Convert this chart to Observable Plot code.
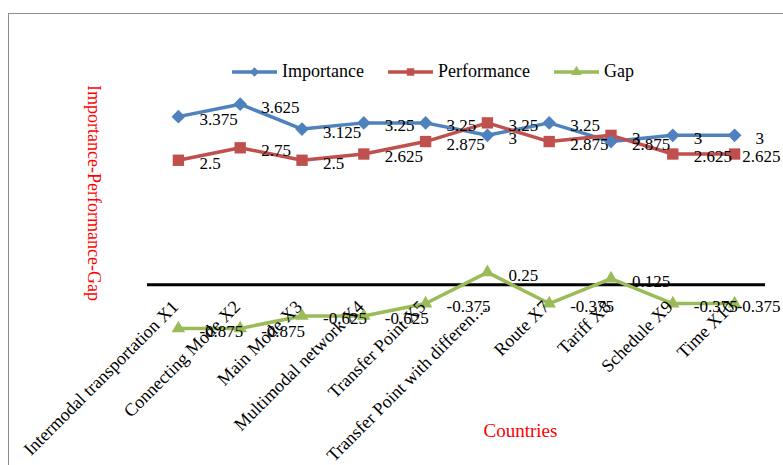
<!DOCTYPE html>
<html>
<head>
<meta charset="utf-8">
<script src="https://cdn.jsdelivr.net/npm/d3@7"></script>
<script src="https://cdn.jsdelivr.net/npm/@observablehq/plot@0.6"></script>
<style>
  html, body { margin: 0; padding: 0; background: #fff; overflow: hidden; }
  #wrap { position: relative; width: 783px; height: 465px; overflow: hidden; font-family: "Liberation Serif", "Times New Roman", serif; }
  #frame { position: absolute; left: 8px; top: 13px; width: 820px; height: 500px; border: 1.5px solid #8c8c8c; box-sizing: border-box; }
  #chart { position: absolute; left: 0; top: 0; }
  #legend { position: absolute; left: 232px; top: 61px; display: flex; align-items: center; font-size: 18px; color: #000; white-space: nowrap; }
  .item { display: flex; align-items: center; margin-right: 24px; }
  .item svg { margin-right: 5px; }
</style>
</head>
<body>
<div id="wrap">
  <div id="frame"></div>
  <div id="chart"></div>
  <div id="legend"></div>
</div>
<script>
const categories = [
  "Intermodal transportation X1",
  "Connecting Mode X2",
  "Main Mode X3",
  "Multimodal network X4",
  "Transfer Point X5",
  "Transfer Point with differen…",
  "Route X7",
  "Tariff X8",
  "Schedule X9",
  "Time X10"
];
const importance  = [3.375, 3.625, 3.125, 3.25, 3.25, 3, 3.25, 2.875, 3, 3];
const performance = [2.5, 2.75, 2.5, 2.625, 2.875, 3.25, 2.875, 3, 2.625, 2.625];
const gap         = [-0.875, -0.875, -0.625, -0.625, -0.375, 0.25, -0.375, 0.125, -0.375, -0.375];
const seriesNames = ["Importance", "Performance", "Gap"];
const seriesColors = ["#4F81BD", "#C0504D", "#9BBB59"];
const seriesSymbols = ["diamond2", "square", "triangle"];
const yTitle = "Importance-Performance-Gap";
const xTitle = "Countries";

const seriesValues = [importance, performance, gap];
const rows = [];
seriesNames.forEach((s, k) => {
  categories.forEach((c, i) => rows.push({series: s, cat: c, idx: i, value: seriesValues[k][i]}));
});
const lastIdx = categories.length - 1;
// labels at the last category that would run past the chart edge are pulled back inside (as Excel does)
const clamped = d => d.idx === lastIdx && String(d.value).length > 2;

const chart = Plot.plot({
  width: 783,
  height: 465,
  marginLeft: 147,
  marginRight: 18,
  marginTop: 85,
  marginBottom: 81,
  style: {fontFamily: "'Liberation Serif', 'Times New Roman', serif", background: "transparent", overflow: "visible"},
  x: {domain: categories, type: "point", padding: 0.5, round: false, axis: null},
  y: {domain: [-2, 4], axis: null},
  r: {type: "identity"},
  color: {domain: seriesNames, range: seriesColors},
  symbol: {domain: seriesNames, range: seriesSymbols},
  marks: [
    Plot.ruleY([0], {stroke: "#000", strokeWidth: 3}),
    Plot.line(rows, {x: "cat", y: "value", z: "series", stroke: "series", strokeWidth: 3.5}),
    Plot.dot(rows, {x: "cat", y: "value", symbol: "series", fill: "series", r: d => d.series === "Gap" ? 5 : d.series === "Performance" ? 6.4 : 6.2, stroke: "none"}),
    Plot.text(rows.filter(d => !clamped(d)), {x: "cat", y: "value", text: d => String(d.value), textAnchor: "start", dx: 21, dy: 3, fontSize: 17, fill: "#000"}),
    Plot.text(rows.filter(clamped), {x: "cat", y: "value", text: d => String(d.value), textAnchor: "end", dx: 46, dy: 3, fontSize: 17, fill: "#000"}),
    Plot.text(categories, {x: d => d, y: () => 0, text: d => d, rotate: -45, textAnchor: "end", dx: -3, dy: 19, fontSize: 18, fill: "#000"}),
    Plot.text([yTitle], {frameAnchor: "left", text: d => d, rotate: 90, textAnchor: "middle", dx: -54, dy: -42, fill: "#FF0000", fontSize: 18}),
    Plot.text([xTitle], {frameAnchor: "bottom", text: d => d, textAnchor: "middle", dx: 64, dy: 52, fill: "#FF0000", fontSize: 19})
  ]
});
document.getElementById("chart").appendChild(chart);

// legend
const legend = document.getElementById("legend");
seriesNames.forEach((name, k) => {
  const item = document.createElement("div");
  item.className = "item";
  const sym = d3.symbol().type(k === 0 ? d3.symbolDiamond2 : k === 1 ? d3.symbolSquare : d3.symbolTriangle).size(k === 2 ? 50 : 55)();
  item.innerHTML =
    `<svg width="45" height="14" viewBox="0 0 45 14"><line x1="0" y1="7" x2="45" y2="7" stroke="${seriesColors[k]}" stroke-width="3.5"/>` +
    `<path d="${sym}" transform="translate(22.5,7)" fill="${seriesColors[k]}"/></svg><span>${name}</span>`;
  legend.appendChild(item);
});
</script>
</body>
</html>
